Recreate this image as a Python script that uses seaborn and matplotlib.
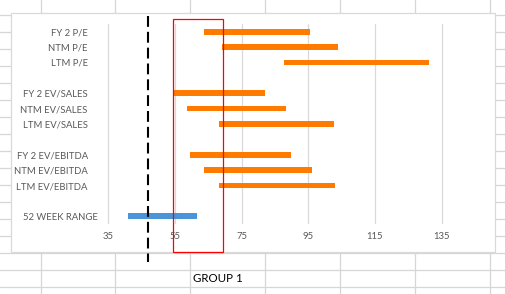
import numpy as np
import pandas as pd
import matplotlib
matplotlib.use("Agg")
import matplotlib.pyplot as plt
import matplotlib.transforms as mtransforms
from matplotlib.lines import Line2D
from matplotlib.patches import Rectangle
import seaborn as sns

# ---------------- data ----------------
metrics = ["FY 2 P/E", "NTM P/E", "LTM P/E",
           "FY 2 EV/SALES", "NTM EV/SALES", "LTM EV/SALES",
           "FY 2 EV/EBITDA", "NTM EV/EBITDA", "LTM EV/EBITDA",
           "52 WEEK RANGE"]
low_values = [63.7, 69.1, 87.7, 54.5, 58.6, 68.2, 59.5, 63.7, 68.2, 40.9]
high_values = [95.5, 103.9, 131.2, 82.0, 88.3, 102.7, 89.8, 96.1, 103.0, 61.6]
kinds = ["multiple"] * 9 + ["range"]
row_order = ["FY 2 P/E", "NTM P/E", "LTM P/E", " ",
             "FY 2 EV/SALES", "NTM EV/SALES", "LTM EV/SALES", "  ",
             "FY 2 EV/EBITDA", "NTM EV/EBITDA", "LTM EV/EBITDA", "   ",
             "52 WEEK RANGE"]
x_ticks = [35, 55, 75, 95, 115, 135]
current_value = 47.0
highlight_range = [54.5, 69.5]
group_label = "GROUP 1"

df = pd.DataFrame({"metric": metrics, "low": low_values,
                   "high": high_values, "kind": kinds})

# ---------------- figure ----------------
W, H = 506, 294
sns.set_style("white")
plt.rcParams["font.family"] = ["Lato", "DejaVu Sans"]
fig = plt.figure(figsize=(W / 100, H / 100), dpi=100)

def fx(x):
    return x / W

def fy(y):
    return 1 - y / H

grid_col = "#d6d6d6"
# spreadsheet grid
for x in [40.7, 115.3, 190.3, 265.3, 340.3, 415.3, 490.3]:
    fig.add_artist(Line2D([fx(x), fx(x)], [0, 1], transform=fig.transFigure,
                          color=grid_col, lw=0.9, zorder=0.5))
for k in range(17):
    y = 15.3 + 17 * k
    fig.add_artist(Line2D([0, 1], [fy(y), fy(y)], transform=fig.transFigure,
                          color=grid_col, lw=0.9, zorder=0.5))

# chart area
fig.add_artist(Rectangle((fx(11.3), fy(252.3)), fx(495.5) - fx(11.3),
                         fy(12.5) - fy(252.3), transform=fig.transFigure,
                         facecolor="white", edgecolor="#d9d9d9", lw=0.9,
                         zorder=1))

# axes placement
ppu = 66.67 / 20.0
x35 = 108.3
xmin, xmax = 33, 150
left_px = x35 - (35 - xmin) * ppu
right_px = x35 + (xmax - 35) * ppu
top_px, bot_px = 24.0, 224.0
ax = fig.add_axes([fx(left_px), fy(bot_px), fx(right_px) - fx(left_px),
                   fy(top_px) - fy(bot_px)])
ax.set_zorder(5)
ax.patch.set_alpha(0)

sns.barplot(data=df, y="metric", x="high", hue="kind", order=row_order,
            hue_order=["multiple", "range"],
            palette={"multiple": "#ff7b00", "range": "#4a94d8"},
            saturation=1, width=0.37, dodge=False, errorbar=None,
            linewidth=0, legend=False, ax=ax)

# turn bars into floating ranges (low -> high)
lookup = df.set_index("metric")
for p in ax.patches:
    pos = int(round(p.get_y() + p.get_height() / 2))
    name = row_order[pos]
    lo, hi = lookup.loc[name, "low"], lookup.loc[name, "high"]
    p.set_x(lo)
    p.set_width(hi - lo)

ax.set_xlim(xmin, xmax)
ax.set_ylim(len(row_order) - 0.5, -0.5)
ax.set_xticks(x_ticks)
ax.set_yticks(range(len(row_order)))
ax.set_yticklabels(row_order)
ax.set_xlabel("")
ax.set_ylabel("")
for s in ax.spines.values():
    s.set_visible(False)
ax.grid(axis="x", color="#d9d9d9", lw=0.9)
ax.grid(axis="y", visible=False)
ax.set_axisbelow(True)
ax.tick_params(axis="y", length=0, pad=10, labelsize=6.8, labelcolor="#595959")
ax.tick_params(axis="x", length=0, pad=6, labelsize=6.8, labelcolor="#595959")

# the range row label sits further right (secondary category axis in source)
shift = mtransforms.ScaledTranslation(10 / 100, 0, fig.dpi_scale_trans)
for lab in ax.get_yticklabels():
    if lab.get_text() == "52 WEEK RANGE":
        lab.set_transform(lab.get_transform() + shift)

# current value dashed line (extends beyond the chart)
bt = mtransforms.blended_transform_factory(ax.transData, fig.transFigure)
ax.plot([current_value, current_value], [fy(15.5), fy(262)], transform=bt,
        color="black", lw=1.5, linestyle=(0, (5.2, 2.4)), clip_on=False,
        zorder=6, solid_capstyle="butt", dash_capstyle="butt")

# highlight rectangle
ax.add_patch(Rectangle((highlight_range[0], fy(251.7)),
                       highlight_range[1] - highlight_range[0],
                       fy(19.3) - fy(251.7), transform=bt, fill=False,
                       edgecolor="#ff0000", lw=0.9, clip_on=False, zorder=6))

fig.text(fx(193), fy(278), group_label, ha="left", va="center",
         fontsize=8.3, color="black")

fig.savefig("out.png", dpi=100)
